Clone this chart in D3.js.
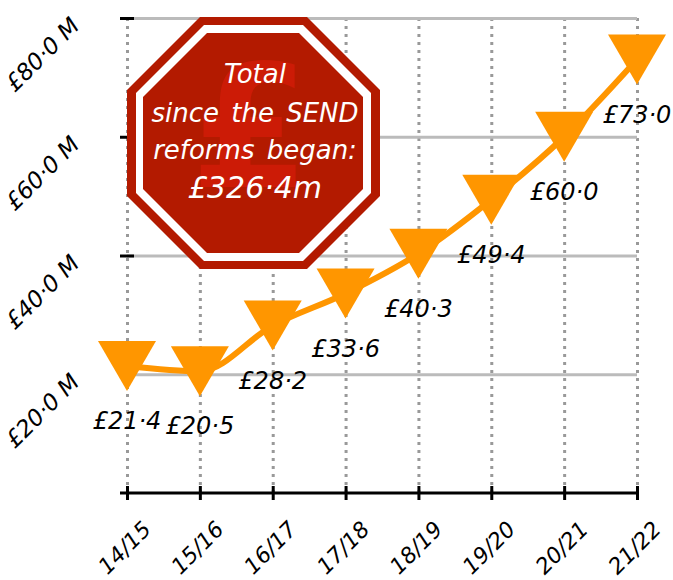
<!DOCTYPE html>
<html>
<head>
<meta charset="utf-8">
<script src="https://cdn.jsdelivr.net/npm/d3@7"></script>
<style>
  html, body { margin: 0; background: #fff; }
  svg { display: block; }
  text { font-family: "DejaVu Sans", sans-serif; font-style: oblique; }
</style>
</head>
<body>
<div id="chart"></div>
<script>
// Dépenses SEND par année : ligne + triangles, panneau stop par-dessus
const years = ["14/15", "15/16", "16/17", "17/18", "18/19", "19/20", "20/21", "21/22"]
const spend = [21.4, 20.5, 28.2, 33.6, 40.3, 49.4, 60.0, 73.0]
const yTicks = [20, 40, 60, 80]
const signLines = ["Total", "since the SEND", "reforms began:", "£326·4m"]

const W = 673, H = 580
const orange = "#ff9600", red = "#b31a00"
const dot = (s) => s.replace(".", "·")

const svg = d3.select("#chart").append("svg").attr("width", W).attr("height", H)

const x = d3.scalePoint().domain(years).range([127, 637])
const y = d3.scaleLinear().domain([0, 80]).range([493, 18])

// Grille verticale pointillée
svg.append("g")
  .attr("transform", "translate(0,18)")
  .call(d3.axisBottom(x).tickSize(475).tickFormat(""))
  .call((s) => s.select(".domain").remove())
  .selectAll("line")
  .attr("stroke", "#999").attr("stroke-width", 3).attr("stroke-dasharray", "3,5")

// Grille horizontale
svg.append("g")
  .attr("transform", "translate(127,0)")
  .call(d3.axisRight(y).tickValues(yTicks).tickSize(510).tickFormat(""))
  .call((s) => s.select(".domain").remove())
  .selectAll("line")
  .attr("stroke", "#bbb").attr("stroke-width", 3)

// Axe X : ligne noire + ticks centrés
const xAxis = svg.append("g")
  .attr("transform", "translate(0,493)")
  .call(d3.axisBottom(x).tickSizeInner(7).tickSizeOuter(0).tickFormat(""))
xAxis.select(".domain").attr("d", "M120,0H637").attr("stroke", "#000").attr("stroke-width", 3)
xAxis.selectAll("line").attr("y1", -7).attr("stroke", "#000").attr("stroke-width", 3)

svg.selectAll("text.x-label")
  .data(years)
  .join("text")
  .attr("class", "x-label")
  .attr("transform", (d) => `translate(${x(d) + 3},553) rotate(-45)`)
  .attr("text-anchor", "middle")
  .attr("font-size", 22)
  .attr("fill", "#000")
  .text((d) => d)

// Axe Y : ticks seuls + labels tournés
svg.append("g")
  .attr("transform", "translate(127,0)")
  .call(d3.axisLeft(y).tickValues(yTicks).tickSizeInner(7).tickSizeOuter(0).tickFormat(""))
  .call((s) => s.select(".domain").remove())
  .selectAll("line")
  .attr("x2", 7).attr("x1", -7).attr("stroke", "#000").attr("stroke-width", 3)

svg.selectAll("text.y-label")
  .data(yTicks)
  .join("text")
  .attr("class", "y-label")
  .attr("transform", (d) => `translate(48,${y(d) + 42}) rotate(-45)`)
  .attr("text-anchor", "middle")
  .attr("font-size", 23)
  .attr("fill", "#000")
  .text((d) => `£${dot(d.toFixed(1))} M`)

// Panneau stop
const octagon = (x0, x1, y0, y1, c) => [
  [x0 + c, y0], [x1 - c, y0], [x1, y0 + c], [x1, y1 - c],
  [x1 - c, y1], [x0 + c, y1], [x0, y1 - c], [x0, y0 + c],
].join(" ")

svg.append("polygon").attr("points", octagon(127, 380, 17, 269, 73)).attr("fill", red)
svg.append("polygon").attr("points", octagon(136, 371, 25, 261, 68)).attr("fill", "#fff")
svg.append("polygon").attr("points", octagon(143, 363, 33, 253, 64)).attr("fill", red)

// Grand £ en filigrane, droit
svg.append("text")
  .attr("x", 250).attr("y", 187)
  .attr("text-anchor", "middle")
  .attr("font-size", 172)
  .attr("font-weight", 700)
  .style("font-style", "normal")
  .attr("fill", "#cc1b06")
  .text("£")

const signY = [83, 122, 159, 198]
const signSize = [26, 26, 26, 30]
svg.selectAll("text.sign")
  .data(signLines)
  .join("text")
  .attr("class", "sign")
  .attr("x", 255)
  .attr("y", (_, i) => signY[i])
  .attr("text-anchor", "middle")
  .attr("font-size", (_, i) => signSize[i])
  .attr("word-spacing", 4)
  .attr("fill", "#fff")
  .text((d) => d)

// Courbe + marqueurs
const line = d3.line()
  .x((_, i) => x(years[i]))
  .y((d) => y(d))
  .curve(d3.curveMonotoneX)

svg.append("path")
  .attr("d", line(spend))
  .attr("fill", "none")
  .attr("stroke", orange)
  .attr("stroke-width", 6)

svg.selectAll("path.marker")
  .data(spend)
  .join("path")
  .attr("class", "marker")
  .attr("d", "M-29,-25H29L0,25Z")
  .attr("transform", (d, i) => `translate(${x(years[i])},${y(d)})`)
  .attr("fill", orange)

// Étiquettes de valeur
svg.selectAll("text.value")
  .data(spend)
  .join("text")
  .attr("class", "value")
  .attr("x", (_, i) => x(years[i]))
  .attr("y", (d) => y(d) + 63)
  .attr("text-anchor", "middle")
  .attr("font-size", 24)
  .attr("fill", "#000")
  .text((d) => `£${dot(d.toFixed(1))}`)
</script>
</body>
</html>
